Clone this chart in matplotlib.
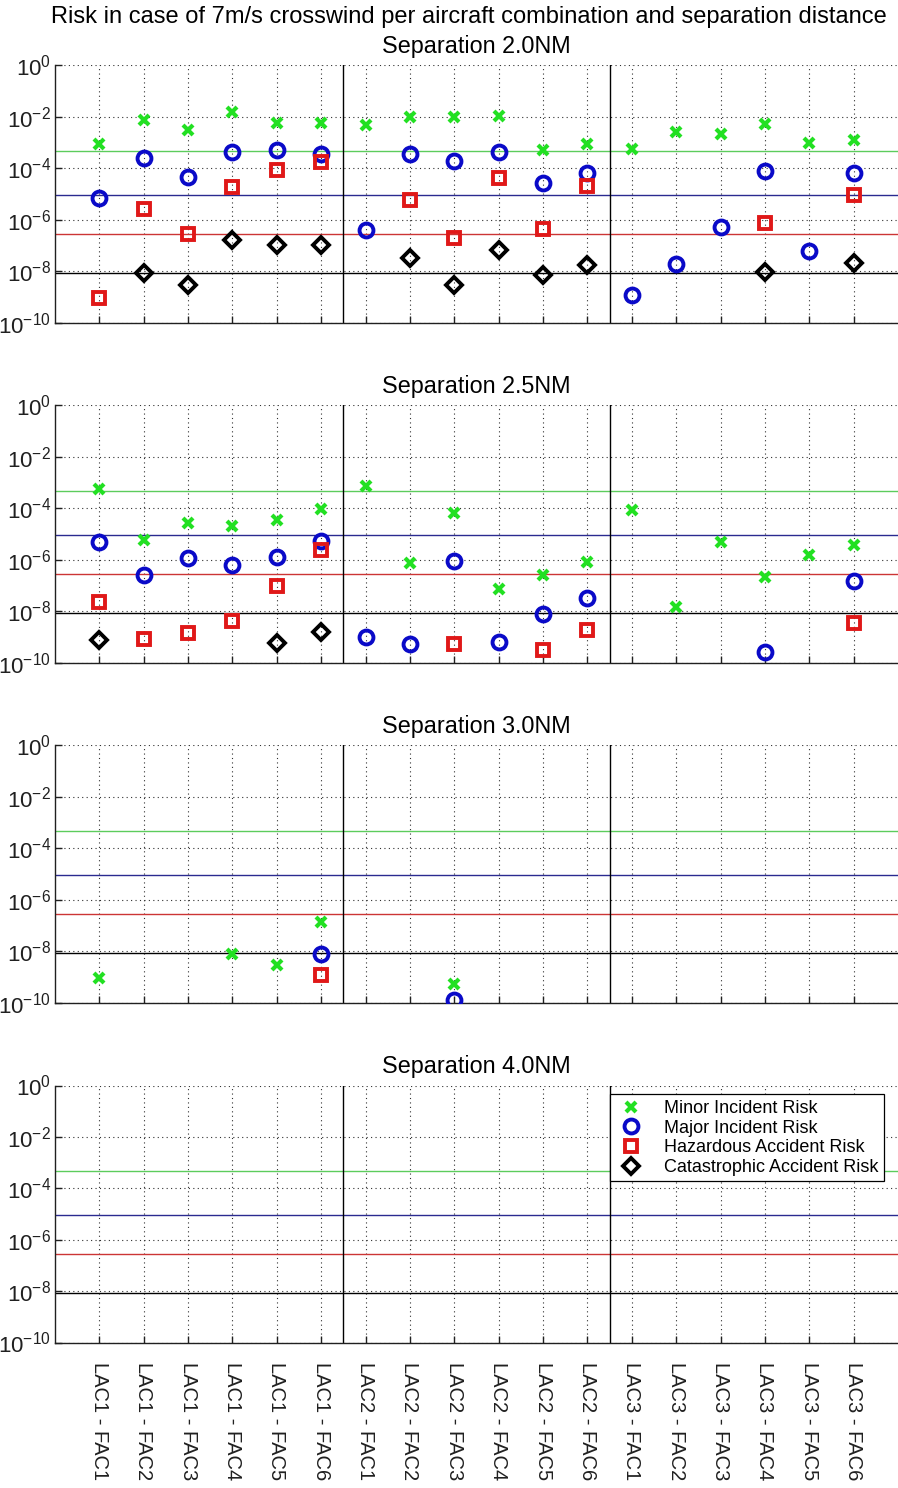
import matplotlib
matplotlib.use("Agg")
import matplotlib.pyplot as plt
import numpy as np
from matplotlib.ticker import FixedLocator, FuncFormatter, NullLocator

plt.rcParams['font.family'] = ['Liberation Sans', 'DejaVu Sans']
plt.rcParams['mathtext.fontset'] = 'custom'
plt.rcParams['mathtext.rm'] = 'Liberation Sans'
plt.rcParams['mathtext.it'] = 'Liberation Sans'

nan = np.nan

categories = ['LAC1 - FAC1', 'LAC1 - FAC2', 'LAC1 - FAC3', 'LAC1 - FAC4', 'LAC1 - FAC5', 'LAC1 - FAC6',
              'LAC2 - FAC1', 'LAC2 - FAC2', 'LAC2 - FAC3', 'LAC2 - FAC4', 'LAC2 - FAC5', 'LAC2 - FAC6',
              'LAC3 - FAC1', 'LAC3 - FAC2', 'LAC3 - FAC3', 'LAC3 - FAC4', 'LAC3 - FAC5', 'LAC3 - FAC6']

separations = ['2.0', '2.5', '3.0', '4.0']

# Separation 2.0NM
minor_20 = [9e-4, 7.4e-3, 2.9e-3, 1.45e-2, 5.8e-3, 5.8e-3, 4.6e-3, 1.0e-2, 9.3e-3, 1.1e-2, 5.3e-4, 8.9e-4,
            5.6e-4, 2.6e-3, 2.2e-3, 5e-3, 9.4e-4, 1.2e-3]
major_20 = [7.3e-6, 2.5e-4, 4.4e-5, 4.3e-4, 4.9e-4, 3.7e-4, 4.1e-7, 3.4e-4, 1.9e-4, 4.3e-4, 2.6e-5, 6.3e-5,
            1.2e-9, 1.9e-8, 5.3e-7, 7.9e-5, 6.4e-8, 6.6e-5]
haz_20 = [9.3e-10, 2.6e-6, 2.9e-7, 1.9e-5, 8.5e-5, 1.8e-4, nan, 6.1e-6, 1.9e-7, 4.1e-5, 4.3e-7, 2.1e-5,
          nan, nan, nan, 7.2e-7, nan, 9e-6]
cat_20 = [nan, 9e-9, 2.9e-9, 1.7e-7, 1.1e-7, 1.1e-7, nan, 3.3e-8, 3.1e-9, 7e-8, 7.3e-9, 1.7e-8,
          nan, nan, nan, 9.5e-9, nan, 2.2e-8]

# Separation 2.5NM
minor_25 = [5.8e-4, 5.8e-6, 2.6e-5, 2.1e-5, 3.5e-5, 9.2e-5, 7.4e-4, 7.2e-7, 6.3e-5, 7.4e-8, 2.6e-7, 8.3e-7,
            8.9e-5, 1.5e-8, 4.8e-6, 2.2e-7, 1.6e-6, 3.7e-6]
major_25 = [4.8e-6, 2.5e-7, 1.2e-6, 6.3e-7, 1.3e-6, 5.4e-6, 1.05e-9, 5.5e-10, 9.1e-7, 6.3e-10, 8.2e-9, 3.2e-8,
            nan, nan, nan, 2.7e-10, nan, 1.5e-7]
haz_25 = [2.3e-8, 8.3e-10, 1.5e-9, 4.1e-9, 1.0e-7, 2.3e-6, nan, nan, 5.6e-10, nan, 3.3e-10, 1.9e-9,
          nan, nan, nan, nan, nan, 3.7e-9]
cat_25 = [7.6e-10, nan, nan, nan, 6e-10, 1.6e-9, nan, nan, nan, nan, nan, nan,
          nan, nan, nan, nan, nan, nan]

# Separation 3.0NM
minor_30 = [9.1e-10, nan, nan, 7.8e-9, 3.1e-9, 1.35e-7, nan, nan, 5.4e-10, nan, nan, nan,
            nan, nan, nan, nan, nan, nan]
major_30 = [nan, nan, nan, nan, nan, 7.8e-9, nan, nan, 1.35e-10, nan, nan, nan,
            nan, nan, nan, nan, nan, nan]
haz_30 = [nan, nan, nan, nan, nan, 1.26e-9, nan, nan, nan, nan, nan, nan,
          nan, nan, nan, nan, nan, nan]
cat_30 = [nan] * 18

# Separation 4.0NM (no values)
minor_40 = [nan] * 18
major_40 = [nan] * 18
haz_40 = [nan] * 18
cat_40 = [nan] * 18

series_names = ['Minor Incident Risk', 'Major Incident Risk', 'Hazardous Accident Risk', 'Catastrophic Accident Risk']
thresholds = [4.7e-4, 9.5e-6, 2.85e-7, 8.8e-9]

panels = [
    [minor_20, major_20, haz_20, cat_20],
    [minor_25, major_25, haz_25, cat_25],
    [minor_30, major_30, haz_30, cat_30],
    [minor_40, major_40, haz_40, cat_40],
]

marker_colors = ['#22e022', '#0a0ac8', '#e01818', '#000000']
line_colors = ['#5ccc5c', '#2a2a90', '#cc3535', '#000000']
markers = ['x', 'o', 's', 'D']
msizes = [7, 10, 9, 8]
mews = [3.0, 2.8, 2.8, 2.8]

W, H = 898, 1488
fig = plt.figure(figsize=(W / 100, H / 100), dpi=100)

tops = [65, 405, 745, 1085.5]
bottoms = [323, 663, 1003, 1342.5]
left_px, right_px = 55, 898

x = np.arange(1, len(categories) + 1)

def fmt(v, pos):
    e = int(round(np.log10(v)))
    return r'$\mathregular{10^{%d}}$' % e

for i, (sep, data) in enumerate(zip(separations, panels)):
    ax = fig.add_axes([left_px / W, 1 - bottoms[i] / H, (right_px - left_px) / W, (bottoms[i] - tops[i]) / H])
    ax.set_yscale('log')
    ax.set_xlim(0, len(categories) + 1)
    ax.set_ylim(1e-10, 1)
    ax.yaxis.set_major_locator(FixedLocator([1e-10, 1e-8, 1e-6, 1e-4, 1e-2, 1e0]))
    ax.yaxis.set_minor_locator(NullLocator())
    ax.yaxis.set_major_formatter(FuncFormatter(fmt))
    ax.set_xticks(x)
    if i == 3:
        ax.set_xticklabels(categories, rotation=270, fontsize=14.5, va='top', ha='center')
    else:
        ax.set_xticklabels([])
    ax.tick_params(axis='both', direction='in', length=5, width=1, colors='#202020')
    ax.tick_params(axis='y', labelsize=16, pad=3)
    ax.tick_params(axis='x', pad=14)
    ax.grid(True, which='major', linestyle=(0, (1, 3)), color='#303030', linewidth=0.8)
    for s in ['top', 'right']:
        ax.spines[s].set_visible(False)
    for s in ['left', 'bottom']:
        ax.spines[s].set_color('#202020')
        ax.spines[s].set_linewidth(1.0)

    for t, lc in zip(thresholds, line_colors):
        ax.axhline(t, color=lc, linewidth=1.0, zorder=2)
    for xv in [6.5, 12.5]:
        ax.axvline(xv, color='black', linewidth=1.0, zorder=2)

    for k, vals in enumerate(data):
        ax.plot(x, vals, linestyle='none', marker=markers[k], markersize=msizes[k],
                markeredgewidth=mews[k], markeredgecolor=marker_colors[k],
                markerfacecolor='none', label=series_names[k], zorder=3)

    ax.set_title('Separation %sNM' % sep, fontsize=16.8, pad=9)

    if i == 3:
        leg = ax.legend(loc='upper left', bbox_to_anchor=(0.658, 0.965), fontsize=13,
                        frameon=True, fancybox=False, edgecolor='black', framealpha=1,
                        handletextpad=0.9, labelspacing=0.15, borderpad=0.3, handlelength=1.8,
                        borderaxespad=0)
        leg.get_frame().set_linewidth(0.9)

fig.text(0.5 + 20 / W, 1 - 17 / H, 'Risk in case of 7m/s crosswind per aircraft combination and separation distance',
         ha='center', va='center', fontsize=17)

fig.savefig('out.png', dpi=100)
